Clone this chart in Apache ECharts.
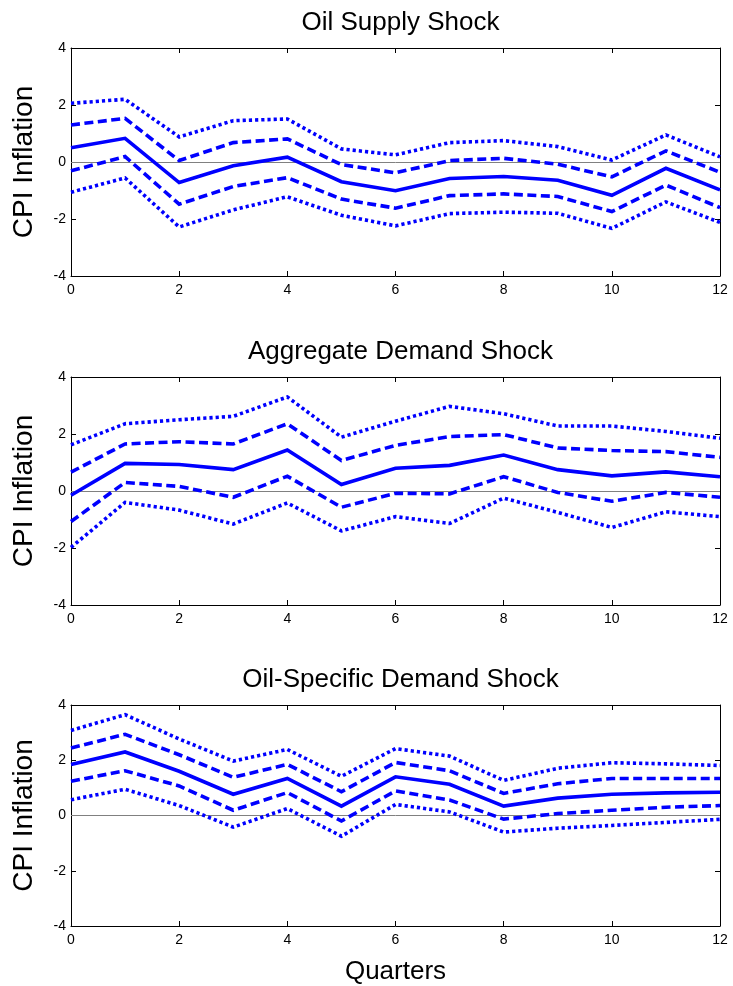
<!DOCTYPE html>
<html>
<head>
<meta charset="utf-8">
<script src="https://cdn.jsdelivr.net/npm/echarts@6/dist/echarts.min.js"></script>
<style>
html,body{margin:0;padding:0;background:#fff;}
#chart{width:733px;height:986px;}
</style>
</head>
<body>
<div id="chart"></div>
<script>
const quarters = [0,1,2,3,4,5,6,7,8,9,10,11,12];
const panelTitles = ['Oil Supply Shock','Aggregate Demand Shock','Oil-Specific Demand Shock'];
const xTicks = [0,2,4,6,8,10,12];
const yTicks = [-4,-2,0,2,4];

// Oil supply shock
const supplyMid  = [0.5, 0.83, -0.72, -0.13, 0.17, -0.69, -1.01, -0.58, -0.51, -0.64, -1.17, -0.22, -0.98];
const supplyUp1  = [1.3, 1.53, 0.05, 0.68, 0.81, -0.09, -0.38, 0.05, 0.13, -0.08, -0.52, 0.39, -0.36];
const supplyLo1  = [-0.31, 0.19, -1.48, -0.86, -0.55, -1.3, -1.62, -1.18, -1.12, -1.21, -1.74, -0.81, -1.6];
const supplyUp2  = [2.06, 2.2, 0.88, 1.45, 1.51, 0.46, 0.25, 0.68, 0.75, 0.54, 0.07, 0.95, 0.18];
const supplyLo2  = [-1.06, -0.56, -2.28, -1.68, -1.22, -1.87, -2.24, -1.81, -1.76, -1.8, -2.33, -1.4, -2.12];

// Aggregate demand shock
const aggMid  = [-0.15, 0.97, 0.93, 0.75, 1.44, 0.23, 0.8, 0.9, 1.26, 0.75, 0.53, 0.67, 0.5];
const aggUp1  = [0.66, 1.65, 1.73, 1.65, 2.36, 1.07, 1.6, 1.91, 1.98, 1.51, 1.42, 1.38, 1.18];
const aggLo1  = [-1.07, 0.3, 0.16, -0.22, 0.52, -0.57, -0.08, -0.1, 0.5, -0.05, -0.36, -0.05, -0.22];
const aggUp2  = [1.62, 2.36, 2.5, 2.62, 3.3, 1.89, 2.45, 2.97, 2.71, 2.28, 2.28, 2.09, 1.85];
const aggLo2  = [-1.98, -0.4, -0.67, -1.16, -0.42, -1.4, -0.9, -1.14, -0.25, -0.75, -1.28, -0.73, -0.9];

// Oil-specific demand shock
const oilMid  = [1.85, 2.3, 1.6, 0.77, 1.34, 0.34, 1.4, 1.13, 0.34, 0.63, 0.77, 0.82, 0.84];
const oilUp1  = [2.44, 2.94, 2.2, 1.38, 1.85, 0.86, 1.92, 1.62, 0.8, 1.15, 1.34, 1.34, 1.34];
const oilLo1  = [1.24, 1.62, 1.07, 0.19, 0.83, -0.2, 0.89, 0.56, -0.13, 0.07, 0.19, 0.3, 0.36];
const oilUp2  = [3.08, 3.65, 2.77, 1.97, 2.39, 1.42, 2.42, 2.15, 1.27, 1.71, 1.91, 1.87, 1.81];
const oilLo2  = [0.57, 0.95, 0.36, -0.42, 0.25, -0.75, 0.4, 0.13, -0.6, -0.46, -0.36, -0.25, -0.14];

const panels = [
  [supplyMid, supplyUp1, supplyLo1, supplyUp2, supplyLo2],
  [aggMid, aggUp1, aggLo1, aggUp2, aggLo2],
  [oilMid, oilUp1, oilLo1, oilUp2, oilLo2]
];

const FONT = 'Liberation Sans, Arial, Helvetica, sans-serif';
const BLUE = '#0000ff';
const tops = [48, 377, 705];
const gridH = 228, gridL = 71, gridW = 649;

const grids = [], xAxes = [], yAxes = [], series = [], titles = [];
const lineStyles = [
  {type:'solid', width:3.6},
  {type:[9,4.5], width:3.6},
  {type:[9,4.5], width:3.6},
  {type:[3.2,3], width:3.6},
  {type:[3.2,3], width:3.6}
];

panels.forEach((sets, p) => {
  grids.push({left:gridL, top:tops[p], width:gridW, height:gridH, containLabel:false});
  titles.push({
    text: panelTitles[p], left: gridL + gridW/2, top: tops[p] - 43, textAlign:'center',
    textStyle:{fontFamily:FONT, fontSize:26, fontWeight:'normal', color:'#000'}
  });
  const baseX = {
    type:'value', gridIndex:p, min:0, max:12, interval:2,
    axisLine:{show:true, onZero:false, lineStyle:{color:'#000', width:1}},
    axisTick:{show:true, inside:true, length:5, lineStyle:{color:'#000', width:1}},
    splitLine:{show:false}
  };
  xAxes.push(Object.assign({}, baseX, {
    position:'bottom',
    axisLabel:{show:true, fontFamily:FONT, fontSize:14, color:'#000', margin:7},
    name: p === 2 ? 'Quarters' : '',
    nameLocation:'middle', nameGap:33,
    nameTextStyle:{fontFamily:FONT, fontSize:26, color:'#000'}
  }));
  xAxes.push(Object.assign({}, baseX, {position:'top', axisLabel:{show:false}}));
  const baseY = {
    type:'value', gridIndex:p, min:-4, max:4, interval:2,
    axisLine:{show:true, onZero:false, lineStyle:{color:'#000', width:1}},
    axisTick:{show:true, inside:true, length:5, lineStyle:{color:'#000', width:1}},
    splitLine:{show:false}
  };
  yAxes.push(Object.assign({}, baseY, {
    position:'left',
    axisLabel:{show:true, fontFamily:FONT, fontSize:14, color:'#000', margin:5},
    name:'CPI Inflation', nameLocation:'middle', nameGap:33,
    nameTextStyle:{fontFamily:FONT, fontSize:28, color:'#000'}
  }));
  yAxes.push(Object.assign({}, baseY, {position:'right', axisLabel:{show:false}}));

  sets.forEach((vals, k) => {
    const s = {
      type:'line', xAxisIndex:2*p, yAxisIndex:2*p,
      data: quarters.map((q, i) => [q, vals[i]]),
      symbol:'none', silent:true, animation:false,
      lineStyle:{color:BLUE, width:lineStyles[k].width, type:lineStyles[k].type, cap:'butt', join:'miter'},
      z: 3
    };
    if (k === 0) {
      s.markLine = {
        silent:true, symbol:['none','none'], label:{show:false},
        lineStyle:{color:'#808080', width:1, type:'solid'},
        data:[{yAxis:0}], z:2
      };
    }
    series.push(s);
  });
});

const chart = echarts.init(document.getElementById('chart'), null, {renderer:'canvas'});
chart.setOption({
  animation:false,
  backgroundColor:'#fff',
  title: titles,
  grid: grids,
  xAxis: xAxes,
  yAxis: yAxes,
  series: series
});
</script>
</body>
</html>
